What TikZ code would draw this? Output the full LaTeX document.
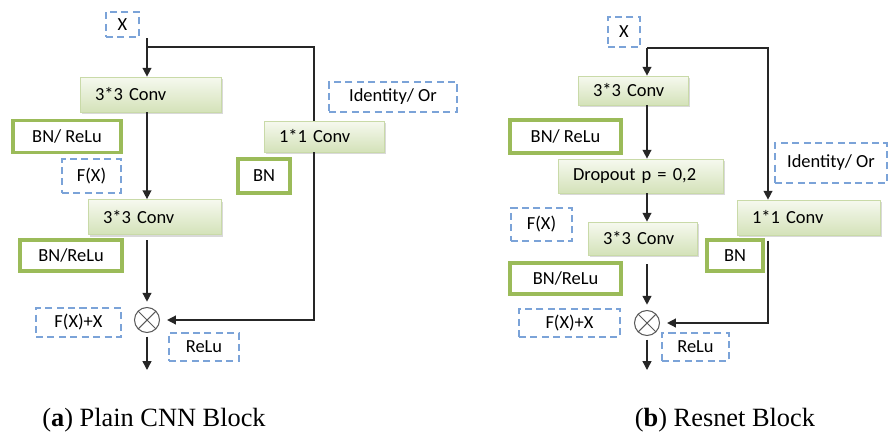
\documentclass[tikz,border=0pt]{standalone}
\usepackage{fontspec}
\setmainfont{Liberation Serif}
\newfontfamily\boxfont{Carlito}
\usetikzlibrary{arrows.meta,shadows}

\definecolor{convtop}{HTML}{F6F9EF}
\definecolor{convbot}{HTML}{D4E2B9}
\definecolor{convedge}{HTML}{C9DAA8}
\definecolor{bngreen}{HTML}{9BBB59}
\definecolor{dashblue}{HTML}{7BA3D8}

\begin{document}
\begin{tikzpicture}[x=0.02cm, y=-0.02cm,
    every node/.style={font=\boxfont\fontsize{10.5}{12}\selectfont},
    conv/.style={draw=convedge, top color=convtop, bottom color=convbot,
      drop shadow={shadow xshift=1.2pt, shadow yshift=-1.2pt, opacity=0.3},
      text width=#1, align=left, inner xsep=0.3cm, minimum height=0.7cm},
    bnbox/.style={draw=bngreen, line width=1.8pt, minimum width=#1, minimum height=0.64cm},
    note/.style={draw=dashblue, line width=0.7pt, dash pattern=on 4pt off 2.5pt,
      minimum width=#1, minimum height=0.6cm},
    sum/.style={draw=black!65, line width=0.6pt, circle, minimum size=0.5cm, inner sep=0pt,
      path picture={\draw[black!65, line width=0.6pt]
        (path picture bounding box.north west) -- (path picture bounding box.south east)
        (path picture bounding box.north east) -- (path picture bounding box.south west);}},
    caption/.style={font=\rmfamily\fontsize{15}{18}\selectfont},
    line/.style={draw=black!85, line width=0.8pt},
    arr/.style={-{Triangle[length=5pt,width=5pt]}}]
  \useasboundingbox (0,0) rectangle (889,436);

  % (a) plain block
  \node[note=0.66cm, minimum height=0.5cm] (xa) at (122.5,24.5) {X};
  \node[conv=2.22cm] (conva1) at (150.5,94.5) {3*3 Conv};
  \node[bnbox=2.16cm] (bnra) at (67,136.5) {BN/ ReLu};
  \node[note=1.18cm, minimum height=0.68cm] (fxa) at (91.5,176) {F(X)};
  \node[note=2.56cm] (idora) at (393,97) {Identity/ Or};
  \node[conv=1.8cm, minimum height=0.62cm] (conv1a) at (324,136.5) {1*1 Conv};
  \node[bnbox=1.04cm, minimum height=0.68cm] (bna) at (264,176) {BN};
  \node[conv=2.06cm] (conva2) at (154.5,217) {3*3 Conv};
  \node[bnbox=2.04cm, minimum height=0.62cm] (bnrb) at (71,255.5) {BN/ReLu};
  \node[sum] (adda) at (147,320) {};
  \node[note=1.7cm, minimum height=0.58cm] (fxxa) at (78.5,322.5) {F(X)+X};
  \node[note=1.4cm, minimum height=0.56cm] (relua) at (204,347) {ReLu};

  \coordinate (ina) at (147,38);
  \coordinate (spa) at (147,47);
  \coordinate (cra) at (314,47);
  \coordinate (outa) at (147,370);

  \draw[line] (ina) -- (spa) -- (cra) -- (cra |- conv1a.north);
  \draw[line, arr] (spa) -- (spa |- conva1.north);
  \draw[line, arr] (conva1.south -| spa) -- (conva2.north -| spa);
  \draw[line, arr, shorten >=3pt] ([yshift=-3pt]conva2.south -| spa) -- (adda);
  \draw[line, arr, shorten >=4pt] (cra |- conv1a.south) |- (adda);
  \draw[line, arr, shorten <=2pt] (adda) -- (outa);

  % (b) resnet block
  \node[note=0.64cm] (xb) at (624,32) {X};
  \node[conv=1.6cm, minimum height=0.58cm] (convb1) at (633,90.5) {3*3 Conv};
  \node[bnbox=2.22cm, minimum height=0.66cm] (bnrc) at (565.5,136.5) {BN/ ReLu};
  \node[conv=2.7cm, minimum height=0.68cm] (dropb) at (640.5,176) {Dropout p = 0,2};
  \node[note=2.24cm, minimum height=0.8cm] (idorb) at (831,163) {Identity/ Or};
  \node[conv=2.26cm] (conv1b) at (808.5,217.5) {1*1 Conv};
  \node[note=1.22cm, minimum height=0.66cm] (fxb) at (541.5,224.5) {F(X)};
  \node[conv=1.58cm, minimum height=0.66cm] (convb2) at (642.5,238.5) {3*3 Conv};
  \node[bnbox=1.12cm, minimum height=0.62cm] (bnb) at (735,255.5) {BN};
  \node[bnbox=2.22cm, minimum height=0.62cm] (bnrd) at (565.5,278.5) {BN/ReLu};
  \node[sum] (addb) at (647,323) {};
  \node[note=2.02cm, minimum height=0.56cm] (fxxb) at (569.5,323) {F(X)+X};
  \node[note=1.34cm, minimum height=0.56cm] (relub) at (695.5,347) {ReLu};

  \coordinate (spb) at (647,48);
  \coordinate (crb) at (768,48);
  \coordinate (outb) at (647,370);

  \draw[line, arr] (spb) -- (spb |- convb1.north);
  \draw[line, arr] (spb) -- (crb) -- (crb |- conv1b.north);
  \draw[line, arr] (convb1.south -| spb) -- (dropb.north -| spb);
  \draw[line, arr] (dropb.south -| spb) -- (convb2.north -| spb);
  \draw[line, arr, shorten >=3pt] ([yshift=-5pt]convb2.south -| spb) -- (addb);
  \draw[line, arr, shorten >=4pt] ([yshift=-3pt]crb |- conv1b.south) |- (addb);
  \draw[line, arr, shorten <=2pt] (addb) -- (outb);

  \node[caption] (capa) at (154,420) {(\textbf{a}) Plain CNN Block};
  \node[caption] (capb) at (725,420) {(\textbf{b}) Resnet Block};
\end{tikzpicture}
\end{document}
